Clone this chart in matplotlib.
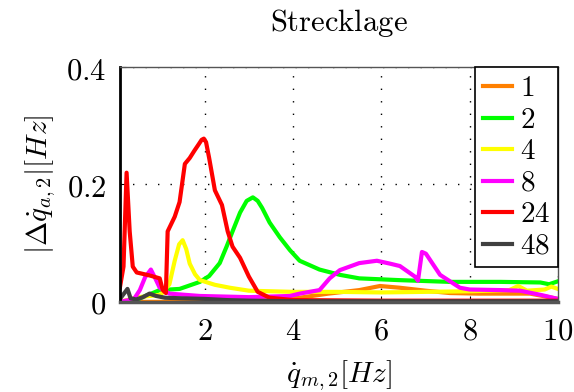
import matplotlib
matplotlib.use("Agg")
import matplotlib.pyplot as plt
import numpy as np

plt.rcParams['mathtext.fontset'] = 'cm'
plt.rcParams['font.family'] = 'serif'
plt.rcParams['font.serif'] = ['DejaVu Serif']

labels = ['1', '2', '4', '8', '24', '48']
colors = ['#ff8000', '#00ff00', '#ffff00', '#ff00ff', '#ff0000', '#404040']

# werte
x1 = [0.08, 1.0, 2.0, 3.0, 3.6, 4.15, 4.8, 5.5, 5.97, 6.42, 7.0, 7.55, 8.2, 8.7, 9.37, 9.8, 10.0]
y1 = [0.0, 0.0, 0.001, 0.002, 0.004, 0.007, 0.014, 0.02, 0.027, 0.024, 0.019, 0.015, 0.014, 0.014, 0.014, 0.008, 0.005]

x2 = [0.08, 0.5, 0.98, 1.43, 1.89, 2.1, 2.34, 2.5, 2.63, 2.8, 2.95, 3.09, 3.2, 3.3, 3.47, 3.7, 3.93, 4.15, 4.6, 5.06, 5.5, 6.4, 7.55, 8.7, 9.6, 9.8, 10.0]
y2 = [0.0, 0.005, 0.02, 0.022, 0.034, 0.044, 0.066, 0.095, 0.12, 0.152, 0.172, 0.178, 0.172, 0.16, 0.135, 0.11, 0.088, 0.07, 0.055, 0.046, 0.04, 0.037, 0.034, 0.034, 0.033, 0.03, 0.035]

x4 = [0.08, 0.5, 1.0, 1.2, 1.32, 1.42, 1.5, 1.58, 1.66, 1.78, 1.89, 2.23, 2.57, 3.0, 4.0, 5.0, 6.0, 7.0, 8.0, 8.9, 9.1, 9.3, 9.7, 9.85, 10.0]
y4 = [0.0, 0.008, 0.012, 0.03, 0.07, 0.098, 0.105, 0.09, 0.065, 0.047, 0.037, 0.029, 0.024, 0.019, 0.017, 0.017, 0.016, 0.017, 0.018, 0.02, 0.027, 0.019, 0.021, 0.026, 0.022]

x8 = [0.08, 0.4, 0.53, 0.65, 0.78, 0.88, 0.98, 1.2, 1.89, 3.0, 3.93, 4.15, 4.6, 4.83, 5.06, 5.5, 5.9, 6.2, 6.42, 6.76, 6.83, 6.92, 7.01, 7.33, 7.78, 8.0, 8.7, 9.14, 9.6, 10.0]
y8 = [0.0, 0.005, 0.02, 0.042, 0.055, 0.04, 0.024, 0.014, 0.01, 0.008, 0.01, 0.014, 0.02, 0.04, 0.054, 0.066, 0.07, 0.065, 0.061, 0.043, 0.036, 0.085, 0.082, 0.046, 0.024, 0.021, 0.02, 0.019, 0.012, 0.005]

x24 = [0.08, 0.16, 0.23, 0.3, 0.37, 0.46, 0.75, 0.98, 1.05, 1.12, 1.16, 1.32, 1.43, 1.55, 1.66, 1.77, 1.86, 1.93, 1.98, 2.03, 2.1, 2.23, 2.39, 2.52, 2.63, 2.8, 3.0, 3.2, 3.47, 4.0, 6.0, 8.0, 10.0]
y24 = [0.025, 0.06, 0.22, 0.12, 0.06, 0.05, 0.045, 0.04, 0.02, 0.015, 0.12, 0.145, 0.17, 0.235, 0.245, 0.258, 0.268, 0.276, 0.278, 0.272, 0.245, 0.19, 0.165, 0.12, 0.094, 0.075, 0.043, 0.017, 0.007, 0.003, 0.002, 0.002, 0.002]

x48 = [0.08, 0.15, 0.25, 0.32, 0.45, 0.6, 0.75, 0.9, 1.1, 1.5, 2.0, 2.5, 3.0, 4.0, 6.0, 8.0, 10.0]
y48 = [0.005, 0.012, 0.022, 0.006, 0.004, 0.008, 0.014, 0.01, 0.007, 0.006, 0.005, 0.003, 0.002, 0.001, 0.001, 0.001, 0.001]

xs = [x1, x2, x4, x8, x24, x48]
ys = [y1, y2, y4, y8, y24, y48]

fig = plt.figure(figsize=(5.74, 3.92), dpi=100)
ax = fig.add_axes([0.209, 0.23, 0.763, 0.599])

for x, y, c, l in zip(xs, ys, colors, labels):
    ax.plot(x, y, color=c, lw=3, label='$' + l + '$', solid_joinstyle='round')

ax.set_xlim(0.08, 10)
ax.set_ylim(0, 0.4)
ax.set_xticks([2, 4, 6, 8, 10])
ax.set_xticklabels(['$2$', '$4$', '$6$', '$8$', '$10$'])
ax.set_yticks([0, 0.2, 0.4])
ax.set_yticklabels(['$0$', '$0.2$', '$0.4$'])
ax.tick_params(labelsize=22, direction='in', length=4)
ax.tick_params(axis='x', pad=10)
ax.tick_params(axis='y', pad=10)
ax.grid(True, color='black', linestyle=(0, (1, 8)), lw=1)
for s in ax.spines.values():
    s.set_linewidth(1.0)
    s.set_color('#555555')
ax.spines['left'].set_linewidth(2)
ax.spines['left'].set_color('black')
ax.spines['bottom'].set_linewidth(2.5)

ax.set_title(r'$\mathrm{Strecklage}$', fontsize=22, pad=26)
ax.set_xlabel(r'$\dot{q}_{m,2}[Hz]$', fontsize=21, labelpad=8)
ax.set_ylabel(r'$|\Delta\dot{q}_{a,2}|[Hz]$', fontsize=21, labelpad=6)

leg = ax.legend(loc='upper right', fontsize=21, fancybox=False, framealpha=1,
                edgecolor='black', handlelength=1.0, handletextpad=0.3,
                labelspacing=0.12, borderpad=0.25, borderaxespad=0.0)
leg.get_frame().set_linewidth(1.2)

fig.savefig('out.png', dpi=100)
